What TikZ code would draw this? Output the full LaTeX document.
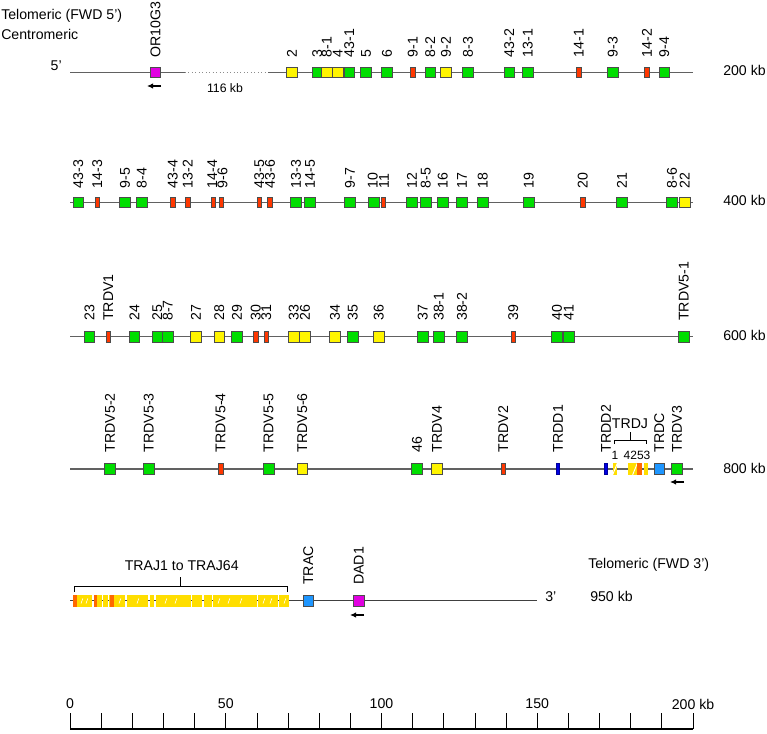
\documentclass[tikz,border=0pt]{standalone}
\usepackage{fontspec}
\setmainfont{Liberation Sans}
\usetikzlibrary{arrows.meta}
\definecolor{cgreen}{RGB}{0,222,0}
\definecolor{cyellow}{RGB}{255,245,0}
\definecolor{cred}{RGB}{255,55,0}
\definecolor{cmag}{RGB}{225,0,225}
\definecolor{cblue}{RGB}{0,0,225}
\definecolor{ccyan}{RGB}{30,150,255}
\definecolor{cgold}{RGB}{255,222,0}
\definecolor{corange}{RGB}{255,105,0}
\begin{document}
\begin{tikzpicture}[x=0.75pt,y=-0.75pt,
  font=\fontsize{10.6}{12}\selectfont,
  rowline/.style={draw=black!62, line width=0.9pt},
  gb/.style={draw=black!70, line width=0.55pt, minimum width=7.8pt, minimum height=7.8pt, inner sep=0pt, outer sep=0pt},
  gG/.style={gb, fill=cgreen},
  gY/.style={gb, fill=cyellow},
  gR/.style={gb, fill=cred, minimum width=3.4pt},
  gM/.style={gb, fill=cmag},
  gC/.style={gb, fill=ccyan},
  gB/.style={gb, fill=cblue, draw=cblue!70!black, minimum width=2.4pt},
  gJ/.style={gb, fill=cgold, draw=none, minimum width=3.5pt, minimum height=8.6pt},
  lab/.style={rotate=90, anchor=west, inner sep=0pt},
  txt/.style={inner sep=0pt},
  arr/.style={-{Latex[length=4.5pt,width=4pt]}, line width=0.8pt},
  brk/.style={draw=black, line width=0.7pt}
]
\useasboundingbox (0,0) rectangle (767,734);

% ---------- header texts
\node[txt, anchor=west] (tel5) at (1,16) {Telomeric (FWD 5')};
\node[txt, anchor=west] (cen) at (1,34) {Centromeric};

% ---------- row 1
\coordinate (r1s) at (70,72.3);
\coordinate (r1b) at (185,72.3);
\coordinate (r1c) at (268,72.3);
\coordinate (r1e) at (693,72.3);
\draw[rowline] (r1s) -- (r1b);
\draw[draw=black!45, line width=0.6pt, dotted] (r1b) -- (r1c);
\draw[rowline] (r1c) -- (r1e);
\node[txt, anchor=base east] (p5) at (62,71) {5'};
\node[txt, anchor=base west] (kb200) at (723,76) {200 kb};
\node[txt, font=\fontsize{9.2}{11}\selectfont] (gap116) at (225,88) {116 kb};
\foreach \x/\lb/\s [count=\i] in {155.5/OR10G3/gM, 292/2/gY, 317.2/3/gG, 326.7/8-1/gY, 337.7/4/gY, 349.3/43-1/gG, 366/5/gG, 387/6/gG, 412.7/9-1/gR, 430.3/8-2/gG, 446/9-2/gY, 468/8-3/gG, 509.3/43-2/gG, 527.7/13-1/gG, 578.7/14-1/gR, 612.7/9-3/gG, 647/14-2/gR, 664.3/9-4/gG}{
  \node[\s] (a\i) at (\x,72.3) {};
  \node[lab] (al\i) at (\x,57.5) {\lb};
}
\coordinate (ar1s) at (161,86);
\coordinate (ar1e) at (147,86);
\draw[arr] (ar1s) -- (ar1e);

% ---------- row 2
\coordinate (r2s) at (70,202.3);
\coordinate (r2e) at (693,202.3);
\draw[rowline] (r2s) -- (r2e);
\node[txt, anchor=base west] (kb400) at (723,206) {400 kb};
\foreach \x/\lb/\s/\lx [count=\i] in {78.3/43-3/gG/78.3, 97.2/14-3/gR/97.2, 125/9-5/gG/125, 141.7/8-4/gG/141.7, 172.7/43-4/gR/172.7, 187.7/13-2/gR/187.7, 213.3/14-4/gR/212.3, 221.3/9-6/gR/222.5, 259.3/43-5/gR/259.3, 270/43-6/gR/270, 296/13-3/gG/296, 310/14-5/gG/310, 350/9-7/gG/350, 373.7/10/gG/372.8, 383.3/11/gR/384, 412/12/gG/412, 425.7/8-5/gG/425.7, 442.7/16/gG/442.7, 462/17/gG/462, 482.7/18/gG/482.7, 528.7/19/gG/528.7, 582.7/20/gR/582.7, 622/21/gG/622, 672/8-6/gG/672, 684.7/22/gY/684.7}{
  \node[\s] (b\i) at (\x,202.3) {};
  \node[lab] (bl\i) at (\lx,188.5) {\lb};
}

% ---------- row 3
\coordinate (r3s) at (70,336.7);
\coordinate (r3e) at (693,336.7);
\draw[rowline] (r3s) -- (r3e);
\node[txt, anchor=base west] (kb600) at (723,340) {600 kb};
\foreach \x/\lb/\s [count=\i] in {89.5/23/gG, 108.2/TRDV1/gR, 134.5/24/gG, 157.3/25/gG, 167.8/8-7/gG, 196/27/gY, 219.3/28/gY, 237/29/gG, 255.7/30/gR, 266.3/31/gR, 293.7/33/gY, 305/26/gY, 335/34/gY, 352.7/35/gG, 378.7/36/gY, 422.7/37/gG, 438.7/38-1/gG, 462/38-2/gG, 513.3/39/gR, 557/40/gG, 568.7/41/gG, 683.7/TRDV5-1/gG}{
  \node[\s] (c\i) at (\x,336.7) {};
  \node[lab] (cl\i) at (\x,321) {\lb};
}

% ---------- row 4
\coordinate (r4s) at (70,469);
\coordinate (r4e) at (693,469);
\draw[rowline] (r4s) -- (r4e);
\node[txt, anchor=base west] (kb800) at (723,473) {800 kb};
\foreach \x/\lb/\s [count=\i] in {110/TRDV5-2/gG, 148.7/TRDV5-3/gG, 220.7/TRDV5-4/gR, 268.7/TRDV5-5/gG, 302.3/TRDV5-6/gY, 417/46/gG, 437/TRDV4/gY, 503.3/TRDV2/gR, 558/TRDD1/gB, 606/TRDD2/gB, 659.3/TRDC/gC, 677/TRDV3/gG}{
  \node[\s] (d\i) at (\x,469) {};
  \node[lab] (dl\i) at (\x,452.5) {\lb};
}
% TRDJ segments
\node[gJ] (j1) at (615,469) {};
\draw[white, line width=0.7pt] (j1.south west) -- (j1.north east);
\node[gJ] (j4) at (630.3,469) {};
\node[gJ] (j2) at (635,469) {};
\draw[white, line width=0.7pt] (j2.south west) -- (j2.north east);
\node[gJ, fill=corange] (j5) at (639.7,469) {};
\node[gJ] (j3) at (646,469) {};
\node[txt, font=\fontsize{9}{10}\selectfont] (jn1) at (615,455) {1};
\node[txt, font=\fontsize{9}{10}\selectfont] (jn2) at (637,455) {4253};
\draw[brk] (614,444) -- (614,440) -- (646,440) -- (646,444);
\draw[brk] (630,440) -- (630,432);
\node[txt] (trdj) at (630,424) {TRDJ};
\coordinate (ar2s) at (684,482);
\coordinate (ar2e) at (670,482);
\draw[arr] (ar2s) -- (ar2e);

% ---------- row 5
\coordinate (r5s) at (70,600.7);
\coordinate (r5e) at (536.7,600.7);
\draw[rowline, draw=black!75] (r5s) -- (r5e);
\node[txt, anchor=base west] (p3) at (545,601) {3'};
\node[txt, anchor=base west] (kb950) at (590,601) {950 kb};
\node[txt, anchor=west] (tel3) at (588,565) {Telomeric (FWD 3')};
% TRAJ band
\foreach \a/\b in {73.3/91.7, 93.7/101.7, 102.9/107.7, 109.3/125.3, 126.7/148.3, 150/154.3, 155.7/191, 192.3/202.3, 204.3/211.7, 213.3/256.7, 258.3/278.3, 279.3/289.3}{
  \fill[cgold] (\a,595) rectangle (\b,606.7);
}
\foreach \a/\b in {73.3/76.7, 94.3/96.7, 110/114.3}{
  \fill[corange] (\a,595) rectangle (\b,606.7);
}
\foreach \a in {81,86,119,137,165,175,218,228,240,263,270,284}{
  \draw[white, line width=0.45pt] (\a,603.5) -- (\a+1.8,598.5);
}
\draw[brk] (74.3,591.7) -- (74.3,586.7) -- (287.7,586.7) -- (287.7,591.7);
\draw[brk] (180.7,586.7) -- (180.7,577);
\node[txt] (traj) at (181.7,565.7) {TRAJ1 to TRAJ64};
\node[gC] (trac) at (308.3,600.7) {};
\node[lab] (tracl) at (308.3,585) {TRAC};
\node[gM] (dad1) at (358.7,600.7) {};
\node[lab] (dad1l) at (358.7,585) {DAD1};
\coordinate (ar3s) at (364,615);
\coordinate (ar3e) at (350,615);
\draw[arr] (ar3s) -- (ar3e);

% ---------- scale bar
\coordinate (sb0) at (70,729);
\coordinate (sb1) at (693,729);
\draw[black, line width=0.8pt] (sb0) -- (sb1);
\foreach \k in {0,...,20}{
  \draw[black, line width=0.6pt] (70+\k*31.15,713) -- (70+\k*31.15,729);
}
\node[txt] (s0) at (70,704) {0};
\node[txt] (s50) at (225.75,704) {50};
\node[txt] (s100) at (381.5,704) {100};
\node[txt] (s150) at (537.25,704) {150};
\node[txt] (s200) at (693,704) {200 kb};
\end{tikzpicture}
\end{document}
